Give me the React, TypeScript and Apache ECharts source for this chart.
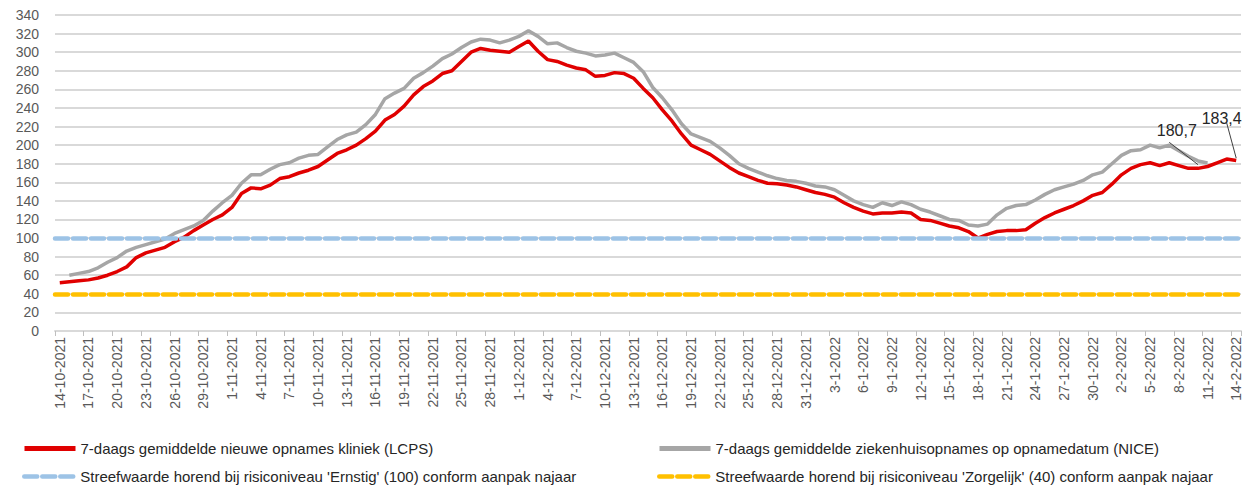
import React, { useEffect, useRef } from "react";
import * as echarts from "echarts";

// ---------- data ----------
const START_DATE = [2021, 10, 14]; // y, m, d
const DAY_COUNT = 124;

function buildCategories(): string[] {
  const out: string[] = [];
  const d = new Date(START_DATE[0], START_DATE[1] - 1, START_DATE[2]);
  for (let i = 0; i < DAY_COUNT; i++) {
    out.push(`${d.getDate()}-${d.getMonth() + 1}-${d.getFullYear()}`);
    d.setDate(d.getDate() + 1);
  }
  return out;
}
const categories = buildCategories();

const NAME_LCPS = "7-daags gemiddelde nieuwe opnames kliniek (LCPS)";
const NAME_NICE = "7-daags gemiddelde ziekenhuisopnames op opnamedatum (NICE)";
const NAME_ERNSTIG = "Streefwaarde horend bij risiconiveau 'Ernstig' (100) conform aanpak najaar";
const NAME_ZORG = "Streefwaarde horend bij risiconiveau 'Zorgelijk' (40) conform aanpak najaar";

const lcps = [
  52, 53, 54, 55, 57, 60, 64, 69, 79, 84, 87, 90, 96, 101, 108, 114, 120, 125, 133, 148,
  154, 153, 157, 164, 166, 170, 173, 177, 184, 191, 195, 200, 207, 215, 227, 233, 242, 254, 263, 269,
  277, 280, 290, 300, 304, 302, 301, 300, 306, 312, 301, 292, 290, 286, 283, 281, 274, 275, 278, 277,
  272, 261, 251, 238, 226, 212, 200, 195, 190, 183, 176, 170, 166, 162, 159, 158.5, 157, 155, 152, 149,
  147, 144, 138, 133, 129, 126, 127, 127, 128, 127, 120, 119, 116, 113, 111, 107, 100, 104, 107, 108,
  108, 109, 116, 122, 127, 131, 135, 140, 146, 149, 158, 168, 175, 179, 181, 178, 181, 178, 175, 175,
  177, 181, 185, 183.4,
];

const nice = [
  null,
  60, 62, 64, 68, 74, 79, 86, 90, 93, 96, 99, 105, 109, 113, 119, 129, 138, 146, 159, 168,
  168, 174, 179, 181, 186, 189, 190, 198, 206, 211, 214, 222, 233, 250, 256, 261, 272, 278, 285, 293,
  298, 305, 311, 314, 313, 310, 313, 317, 323, 317, 309, 310, 305, 301, 299, 296, 297, 299, 294, 289,
  279, 262, 251, 238, 223, 212, 208, 204, 197, 189, 180, 175, 171, 167, 164, 162, 161, 159, 156, 155,
  152, 146, 140, 136, 133, 138, 135, 139, 136, 131, 128, 124, 120, 119, 114, 113, 115, 125, 132, 135,
  136, 141, 147, 152, 155, 158, 162, 168, 171, 180, 189, 194, 195, 200, 197, 200, 194, 188, 183, 180.7,
  null, null, null,
];

const ERNSTIG = 100;
const ZORGELIJK = 40;

const Y_MIN = 0;
const Y_MAX = 340;
const Y_STEP = 20;

// annotation labels: [category index, value] for text and leader-line ends
const NICE_LABEL = { text: "180,7", at: [117, 216], dx: -2, lineFrom: [116, 203], lineTo: [119, 179] };
const LCPS_LABEL = { text: "183,4", at: [122, 229], dx: -5, lineFrom: [122, 224], lineTo: [123, 186] };

const RED = "#e00000";
const GRAY = "#a6a6a6";
const BLUE = "#9dc3e6";
const YELLOW = "#ffc000";
const FONT = "Liberation Sans, Arial, sans-serif";

function annotation(lbl: typeof NICE_LABEL) {
  return {
    markPoint: {
      silent: true,
      symbol: "circle",
      symbolSize: 0,
      data: [
        {
          coord: lbl.at,
          label: {
            show: true,
            position: "inside",
            offset: [lbl.dx, 0],
            formatter: lbl.text,
            color: "#262626",
            fontSize: 16,
            fontFamily: FONT,
          },
        },
      ],
    },
    markLine: {
      silent: true,
      symbol: ["none", "none"],
      label: { show: false },
      lineStyle: { color: "#404040", width: 1, type: "solid" },
      emphasis: { disabled: true },
      data: [[{ coord: lbl.lineFrom }, { coord: lbl.lineTo }]],
    },
  };
}

function refLine(name: string, value: number, color: string) {
  const ls = { color, width: 4.5, type: [13, 5], cap: "round" };
  return {
    name,
    type: "line",
    data: [],
    symbol: "none",
    lineStyle: ls,
    itemStyle: { color },
    z: 4,
    markLine: {
      silent: true,
      symbol: ["none", "none"],
      label: { show: false },
      lineStyle: ls,
      emphasis: { disabled: true },
      data: [{ yAxis: value }],
    },
  };
}

function legendItem(name: string, left: number, top: number, lineWidth: number) {
  return {
    left,
    top,
    padding: 0,
    orient: "horizontal",
    itemWidth: 51,
    itemHeight: 14,
    itemGap: 0,
    data: [name],
    textStyle: { color: "#262626", fontSize: 15, fontFamily: FONT },
    itemStyle: { opacity: 0 },
    lineStyle: { width: lineWidth },
    selectedMode: false,
  };
}

export default function App() {
  const ref = useRef<HTMLDivElement>(null);

  useEffect(() => {
    if (!ref.current) return;
    const chart = echarts.init(ref.current, undefined, { renderer: "svg" });
    chart.setOption({
      animation: false,
      backgroundColor: "#ffffff",
      grid: { left: 55, right: 4, top: 15, bottom: 157, containLabel: false },
      legend: [
        legendItem(NAME_LCPS, 22, 441, 5),
        legendItem(NAME_NICE, 657, 441, 5),
        legendItem(NAME_ERNSTIG, 22, 469, 4.5),
        legendItem(NAME_ZORG, 657, 469, 4.5),
      ],
      xAxis: {
        type: "category",
        data: categories,
        boundaryGap: true,
        axisLine: { show: true, lineStyle: { color: "#d9d9d9", width: 2 } },
        axisTick: { show: true, interval: 2, length: 5, lineStyle: { color: "#bfbfbf" } },
        axisLabel: {
          interval: 2,
          rotate: 90,
          margin: 6,
          color: "#595959",
          fontSize: 14,
          fontFamily: FONT,
        },
        splitLine: { show: false },
      },
      yAxis: {
        type: "value",
        min: Y_MIN,
        max: Y_MAX,
        interval: Y_STEP,
        axisLine: { show: false },
        axisTick: { show: false },
        axisLabel: { color: "#595959", fontSize: 14, fontFamily: FONT, margin: 16 },
        splitLine: { show: true, lineStyle: { color: "#d9d9d9", width: 2 } },
      },
      series: [
        {
          name: NAME_LCPS,
          type: "line",
          data: lcps,
          symbol: "none",
          lineStyle: { color: RED, width: 3.5 },
          itemStyle: { color: RED },
          z: 3,
          ...annotation(LCPS_LABEL),
        },
        {
          name: NAME_NICE,
          type: "line",
          data: nice,
          symbol: "none",
          connectNulls: false,
          lineStyle: { color: GRAY, width: 3.5 },
          itemStyle: { color: GRAY },
          z: 3,
          ...annotation(NICE_LABEL),
        },
        refLine(NAME_ERNSTIG, ERNSTIG, BLUE),
        refLine(NAME_ZORG, ZORGELIJK, YELLOW),
      ],
    });
    return () => chart.dispose();
  }, []);

  return <div ref={ref} style={{ width: 1245, height: 488, position: "absolute", left: 0, top: 0 }} />;
}
